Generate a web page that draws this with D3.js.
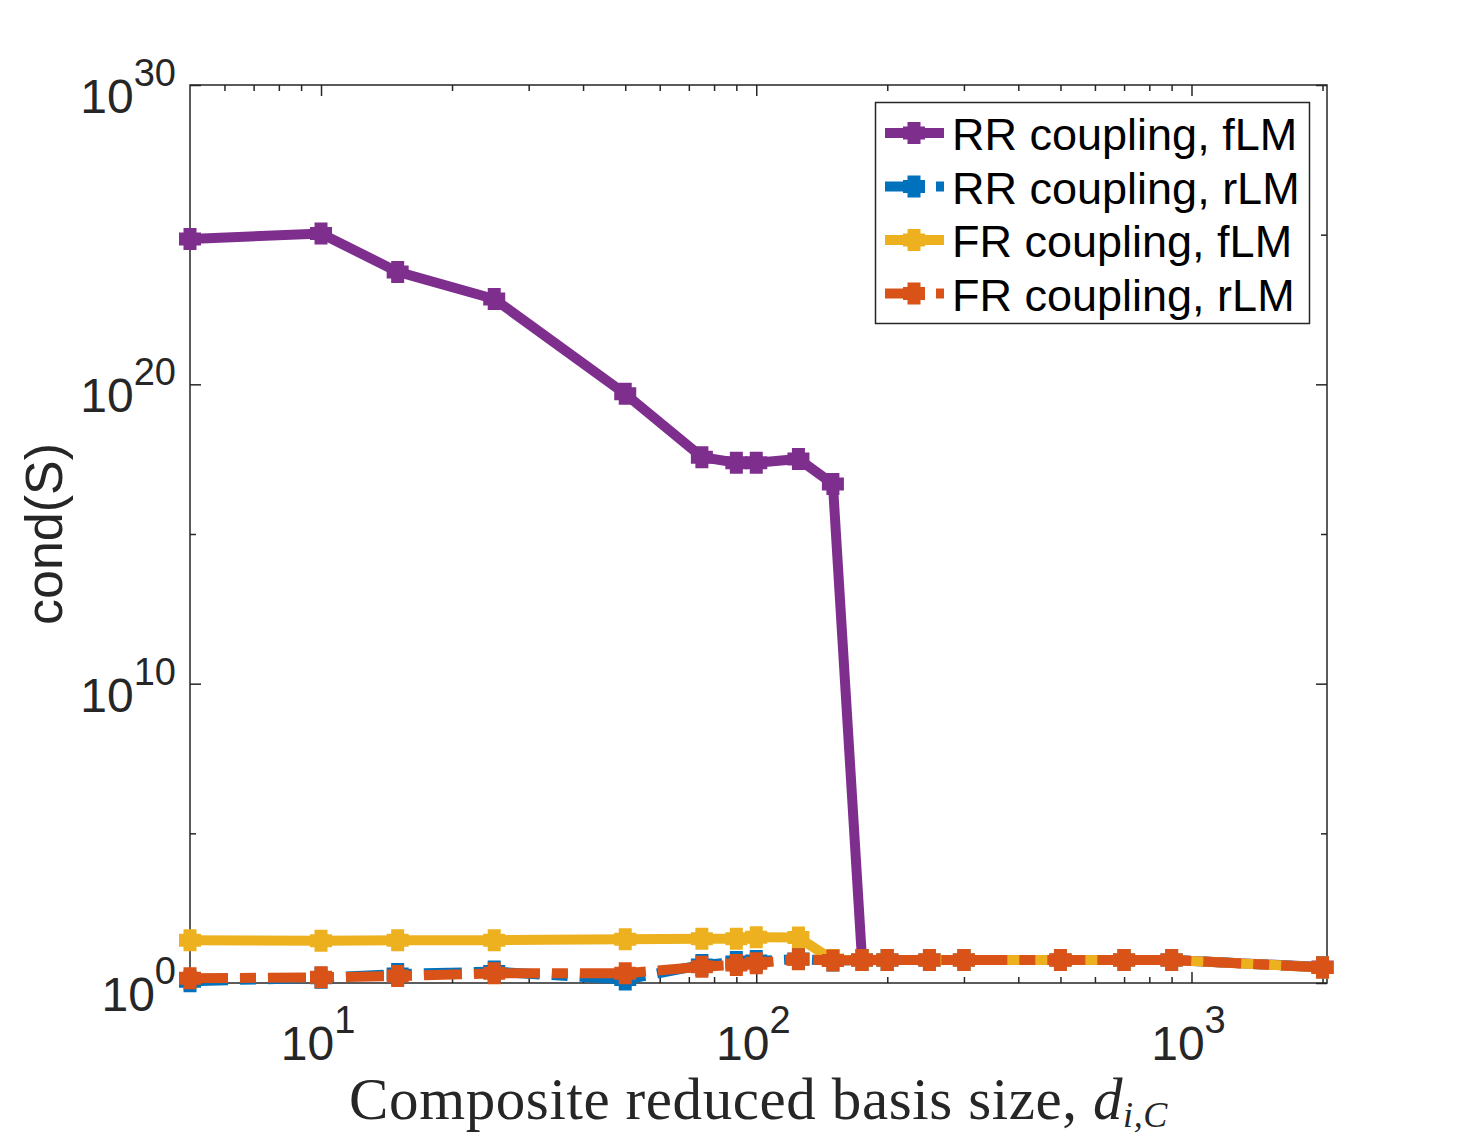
<!DOCTYPE html>
<html>
<head>
<meta charset="utf-8">
<script src="https://cdn.jsdelivr.net/npm/d3@7"></script>
<style>
	body { margin: 0; background: white; }
	svg { display: block; }
</style>
</head>
<body>
<script>
// basis sizes d_{i,C}
var sizes = [5, 10, 15, 25, 50, 75, 90, 100, 125, 150, 175, 200, 250, 300, 500, 700, 900, 2000]

// cond(S) per series
var rrFull = [7.2e24, 1.1e25, 5.7e23, 7.1e22, 4.8e19, 3.7e17, 2.4e17, 2.4e17, 3.2e17, 4.7e16, 5.9, 5.9, 5.9, 5.9, 5.9, 5.9, 5.9, 3.4]
var rrRed = [1.15, 1.5, 2.0, 2.4, 1.3, 4.0, 5.0, 5.4, 6.3, 5.6, 5.9, 5.9, 5.9, 5.9, 5.9, 5.9, 5.9, 3.3]
var frFull = [27, 26, 27, 27, 29, 30, 30, 34, 33, 5.9, 5.9, 5.9, 5.9, 5.9, 5.9, 5.9, 5.9, 3.3]
var frRed = [1.44, 1.55, 1.71, 2.1, 2.1, 3.5, 4.0, 4.6, 6.2, 5.6, 5.9, 5.9, 5.9, 5.9, 5.9, 5.9, 5.9, 3.3]

var names = ['RR coupling, fLM', 'RR coupling, rLM', 'FR coupling, fLM', 'FR coupling, rLM']
var colors = ['#7E2F8E', '#0072BD', '#EDB120', '#D95319']
var dashed = [false, true, false, true]

var xMajor = [10, 100, 1000]
var xMinor = [6, 7, 8, 9, 20, 30, 40, 50, 60, 70, 80, 90, 200, 300, 400, 500, 600, 700, 800, 900, 2000]
var yMajor = [1, 1e10, 1e20, 1e30]
var yMinor = [1e5, 1e15, 1e25]

var series = [rrFull, rrRed, frFull, frRed]

var width = 1466,
	height = 1140

var box = {left: 190, right: 1327, top: 85, bottom: 983}
var ink = '#262626'

var svg = d3.select('body').append('svg')
	.attr('width', width)
	.attr('height', height)

var x = d3.scaleLog()
	.domain([5, 2048])
	.range([box.left, box.right])

var y = d3.scaleLog()
	.domain([1, 1e30])
	.range([box.bottom, box.top])

function tickAxis(axis, pos, vals, len) {
	var g = svg.append('g')
		.attr('transform', pos)
		.call(axis.tickValues(vals).tickSize(-len).tickFormat(''))
	g.select('.domain').remove()
	g.selectAll('line').attr('stroke', ink).attr('stroke-width', 1.5)
}

tickAxis(d3.axisBottom(x), 'translate(0,' + box.bottom + ')', xMajor, 11)
tickAxis(d3.axisBottom(x), 'translate(0,' + box.bottom + ')', xMinor, 6)
tickAxis(d3.axisTop(x), 'translate(0,' + box.top + ')', xMajor, 11)
tickAxis(d3.axisTop(x), 'translate(0,' + box.top + ')', xMinor, 6)
tickAxis(d3.axisLeft(y), 'translate(' + box.left + ',0)', yMajor, 11)
tickAxis(d3.axisLeft(y), 'translate(' + box.left + ',0)', yMinor, 6)
tickAxis(d3.axisRight(y), 'translate(' + box.right + ',0)', yMajor, 11)
tickAxis(d3.axisRight(y), 'translate(' + box.right + ',0)', yMinor, 6)

svg.append('rect')
	.attr('x', box.left)
	.attr('y', box.top)
	.attr('width', box.right - box.left)
	.attr('height', box.bottom - box.top)
	.attr('fill', 'none')
	.attr('stroke', ink)
	.attr('stroke-width', 1.5)

// tick labels as 10^k
function powLabel(sel, k) {
	sel.attr('font-family', 'Liberation Sans, Arial, sans-serif')
		.attr('fill', ink)
	sel.append('tspan').attr('font-size', 48).text('10')
	sel.append('tspan').attr('font-size', 38).attr('dy', -27).text(k)
}

yMajor.forEach(function(v) {
	svg.append('text')
		.attr('x', box.left - 14)
		.attr('y', y(v) + 28)
		.attr('text-anchor', 'end')
		.call(powLabel, Math.round(Math.log10(v)))
})

xMajor.forEach(function(v) {
	svg.append('text')
		.attr('x', x(v) - 3)
		.attr('y', 1060)
		.attr('text-anchor', 'middle')
		.call(powLabel, Math.round(Math.log10(v)))
})

svg.append('text')
	.attr('transform', 'translate(62,534) rotate(-90)')
	.attr('text-anchor', 'middle')
	.attr('font-family', 'Liberation Sans, Arial, sans-serif')
	.attr('font-size', 52)
	.attr('fill', ink)
	.text('cond(S)')

var xt = svg.append('text')
	.attr('x', (box.left + box.right) / 2)
	.attr('y', 1119)
	.attr('text-anchor', 'middle')
	.attr('font-family', 'Liberation Serif, Times New Roman, serif')
	.attr('font-size', 59)
	.attr('letter-spacing', 0.6)
	.attr('fill', ink)
xt.append('tspan').text('Composite reduced basis size, ')
xt.append('tspan').attr('font-style', 'italic').text('d')
xt.append('tspan').attr('font-style', 'italic').attr('font-size', 36).attr('dy', 8).text('i,C')

// data
var line = d3.line()
	.x(d => x(d[0]))
	.y(d => y(d[1]))

var plus = 'M-11,0H11M0,-11V11'

series.forEach(function(vals, i) {
	var pts = sizes.map((s, j) => [s, vals[j]])
	var g = svg.append('g')
	g.append('path')
		.attr('d', line(pts))
		.attr('fill', 'none')
		.attr('stroke', colors[i])
		.attr('stroke-width', 10)
		.attr('stroke-dasharray', dashed[i] ? '38,12,16,12' : null)
	g.selectAll('path.mk')
		.data(pts)
		.enter()
		.append('path')
			.attr('class', 'mk')
			.attr('transform', d => 'translate(' + x(d[0]) + ',' + y(d[1]) + ')')
			.attr('d', plus)
			.attr('stroke', colors[i])
			.attr('stroke-width', 13)
})

// legend
var lg = svg.append('g')
lg.append('rect')
	.attr('x', 875.5)
	.attr('y', 102.5)
	.attr('width', 434)
	.attr('height', 221)
	.attr('fill', 'white')
	.attr('stroke', ink)
	.attr('stroke-width', 1.5)

names.forEach(function(n, i) {
	var ry = 133 + i * 53.5
	lg.append('line')
		.attr('x1', 885)
		.attr('x2', 944)
		.attr('y1', ry)
		.attr('y2', ry)
		.attr('stroke', colors[i])
		.attr('stroke-width', 10)
		.attr('stroke-dasharray', dashed[i] ? '24,27,8,20' : null)
	lg.append('path')
		.attr('transform', 'translate(914,' + ry + ')')
		.attr('d', plus)
		.attr('stroke', colors[i])
		.attr('stroke-width', 13)
	lg.append('text')
		.attr('x', 952)
		.attr('y', ry + 17)
		.attr('font-family', 'Liberation Sans, Arial, sans-serif')
		.attr('font-size', 45)
		.attr('fill', '#000')
		.text(n)
})
</script>
</body>
</html>
